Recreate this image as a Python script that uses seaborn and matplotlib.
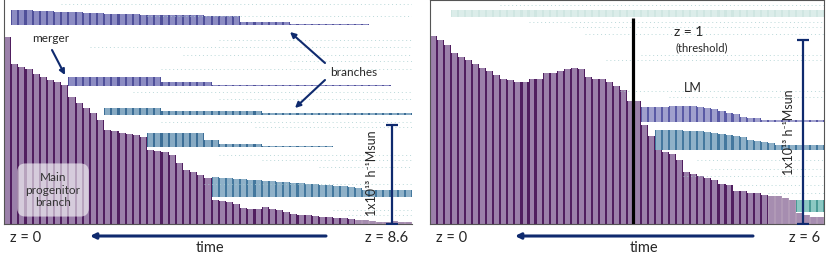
import numpy as np
import seaborn as sns
import matplotlib.pyplot as plt

# main progenitor mass (1e13 h^-1 Msun) per snapshot, z=0 on the left
main_left = [1.89, 1.61, 1.58, 1.56, 1.51, 1.48, 1.45, 1.43, 1.40, 1.28, 1.22, 1.17, 1.12, 1.05,
             0.95, 0.94, 0.92, 0.91, 0.90, 0.88, 0.75, 0.74, 0.73, 0.70, 0.62, 0.54, 0.52, 0.49, 0.46,
             0.24, 0.23, 0.22, 0.20, 0.16, 0.15, 0.15, 0.17, 0.15, 0.14, 0.12, 0.10, 0.09, 0.09, 0.08,
             0.07, 0.07, 0.06, 0.06, 0.05, 0.04, 0.04, 0.03, 0.02, 0.02, 0.03, 0.02, 0.02]
main_right = [1.02, 1.00, 0.97, 0.93, 0.91, 0.89, 0.87, 0.85, 0.83, 0.81, 0.79, 0.78, 0.77, 0.77,
              0.79, 0.79, 0.82, 0.82, 0.83, 0.84, 0.85, 0.84, 0.80, 0.79, 0.79, 0.77, 0.75, 0.73,
              0.67, 0.67, 0.54, 0.48, 0.43, 0.39, 0.38, 0.35, 0.28, 0.27, 0.26, 0.25, 0.24, 0.22,
              0.21, 0.18, 0.18, 0.17, 0.17, 0.16, 0.15, 0.15, 0.14, 0.13, 0.06, 0.05, 0.04, 0.04]

# branches: first snapshot index and masses
branch_a_start = 1
branch_a = [0.15] * 3 + [0.14] * 3 + [0.13] * 4 + [0.12] * 3 + [0.11] * 5 + [0.10] * 9 + [0.09] * 5 + [0.03] * 7 + [0.01] * 11
branch_b_start = 9
branch_b = [0.09] * 13 + [0.04] * 7 + [0.015] * 25
branch_c_start = 14
branch_c = [0.07] * 8 + [0.04] * 14 + [0.015] * 21
branch_d_start = 20
branch_d = [0.14] * 8 + [0.07] * 2 + [0.03] * 6 + [0.01] * 10
branch_e_start = 29
branch_e = [0.20, 0.19, 0.19, 0.18, 0.18, 0.17, 0.17, 0.16, 0.16, 0.15, 0.15, 0.14, 0.14, 0.13,
            0.13, 0.12, 0.12, 0.11, 0.11, 0.10, 0.09] + [0.07] * 7

top_r_start = 3
top_r = [0.04] * 53
lm_start = 30
lm_branch = [0.082, 0.082, 0.082, 0.082, 0.087, 0.087, 0.087, 0.087, 0.082, 0.076, 0.071,
             0.060, 0.049, 0.043, 0.027, 0.022, 0.022] + [0.011] * 9
br2_start = 32
br2 = [0.109, 0.109, 0.109, 0.109, 0.103, 0.103, 0.103, 0.098, 0.092, 0.087, 0.082, 0.076,
       0.071, 0.054, 0.049, 0.043, 0.038] + [0.027] * 7
teal_start = 52
teal = [0.065] * 4

# tiny branches (faint dotted lines): level, first snapshot
tiny_left = [(2.22, 8), (2.10, 20), (1.86, 30), (1.79, 12), (1.71, 25), (1.64, 40), (1.56, 22),
             (1.33, 18), (1.26, 30), (1.03, 22), (0.98, 35), (0.70, 30), (0.65, 36), (0.58, 44),
             (0.40, 28), (0.14, 46), (0.09, 48)]
tiny_right = [(1.19, 10), (1.10, 14), (1.07, 20), (1.03, 22), (0.92, 30), (0.89, 25), (0.72, 27),
              (0.69, 34), (0.35, 38), (0.30, 40), (0.26, 36), (0.21, 44), (0.17, 48)]

W, H = 830, 269
navy = '#0f2a6e'
mass_label = '1x10\u00b9\u00b3 h\u207b\u00b9Msun'

sns.set_theme(style='white')
plt.rcParams['font.family'] = ['Lato', 'DejaVu Sans']

fig = plt.figure(figsize=(W / 100, H / 100), dpi=100)
axL = fig.add_axes([4 / W, 45 / H, 408 / W, 224 / H])
axR = fig.add_axes([430 / W, 45 / H, 394 / W, 224 / H])


def fp(x, y):
    return (x / W, 1 - y / H)


def draw_main(ax, vals, light, dark, fade_from):
    n = len(vals)
    idx = np.arange(n)
    sns.barplot(x=idx, y=vals, ax=ax, color=dark, width=1.0, saturation=1, errorbar=None, linewidth=0)
    sns.barplot(x=idx, y=vals, ax=ax, color=light, width=0.7, saturation=1, errorbar=None, linewidth=0)
    for k, p in enumerate(ax.patches):
        if k % n >= fade_from:
            p.set_alpha(0.45)


def draw_branch(ax, start, vals, base, light, dark, alpha=1.0):
    x = np.arange(start, start + len(vals))
    ax.bar(x, vals, bottom=base, width=1.0, color=dark, alpha=alpha, linewidth=0)
    ax.bar(x, vals, bottom=base, width=0.7, color=light, alpha=alpha, linewidth=0)


# left tree
draw_main(axL, main_left, '#9b80aa', '#501e5f', 49)
for lev, s in tiny_left:
    axL.hlines(lev, s - 0.5, 56.5, color='#a9cfd0', lw=0.7, ls=(0, (1, 3)), alpha=0.8)
draw_branch(axL, branch_a_start, branch_a, 2.01, '#8c8cc3', '#50509a')
draw_branch(axL, branch_b_start, branch_b, 1.39, '#8c8cc3', '#50509a')
draw_branch(axL, branch_c_start, branch_c, 1.10, '#87aac3', '#3c6e96')
draw_branch(axL, branch_d_start, branch_d, 0.78, '#87aac3', '#3c6e96')
draw_branch(axL, branch_e_start, branch_e, 0.27, '#8fb1c8', '#44789e')
axL.set_xlim(-0.5, 56.5)
axL.set_ylim(0, 2.26)
axL.errorbar([53.7], [0.5], yerr=[0.5], color=navy, lw=1.6, capsize=4.5, capthick=1.6, zorder=6)

# right tree
draw_main(axR, main_right, '#9b80aa', '#501e5f', 48)
for lev, s in tiny_right:
    axR.hlines(lev, s - 0.5, 55.5, color='#a9cfd0', lw=0.7, ls=(0, (1, 3)), alpha=0.8)
draw_branch(axR, top_r_start, top_r, 1.125, '#e2f1ee', '#bcdcd7', alpha=0.7)
draw_branch(axR, lm_start, lm_branch, 0.554, '#a0a0cd', '#5a5aa5')
draw_branch(axR, br2_start, br2, 0.402, '#8fb1c8', '#44789e')
draw_branch(axR, teal_start, teal, 0.065, '#8cc8c3', '#4a9a96')
axR.set_xlim(-0.5, 55.5)
axR.set_ylim(0, 1.217)
axR.vlines(28.4, 0, 1.12, color='black', lw=2.3, zorder=6)
axR.errorbar([52.5], [0.5], yerr=[0.5], color=navy, lw=1.6, capsize=4.5, capthick=1.6, zorder=6)

for ax in (axL, axR):
    ax.set_xticks([])
    ax.set_yticks([])
    ax.set_xlabel('')
    ax.set_ylabel('')
    for sp in ax.spines.values():
        sp.set_color('#555555')
        sp.set_linewidth(0.8)
axL.spines['top'].set_visible(False)
axL.spines['right'].set_visible(False)

# labels
fig.text(*fp(51, 38), 'merger', fontsize=8.5, ha='center', va='center')
fig.text(*fp(354, 72), 'branches', fontsize=8.5, ha='center', va='center')
fig.text(*fp(53, 190), 'Main\nprogenitor\nbranch', fontsize=8.5, ha='center', va='center', color='#333333',
         linespacing=1.2, bbox=dict(boxstyle='round,pad=0.7', fc='white', ec='none', alpha=0.6))
fig.text(*fp(372, 173), mass_label, fontsize=9, rotation=90, ha='center', va='center')
fig.text(*fp(789, 132), mass_label, fontsize=9, rotation=90, ha='center', va='center')
fig.text(*fp(26, 238), 'z = 0', fontsize=10.5, ha='center', va='center')
fig.text(*fp(387, 238), 'z = 8.6', fontsize=10.5, ha='center', va='center')
fig.text(*fp(210, 248), 'time', fontsize=10.5, ha='center', va='center')
fig.text(*fp(452, 238), 'z = 0', fontsize=10.5, ha='center', va='center')
fig.text(*fp(644, 248), 'time', fontsize=10.5, ha='center', va='center')
fig.text(*fp(805, 238), 'z = 6', fontsize=10.5, ha='center', va='center')
fig.text(*fp(689, 32), 'z = 1', fontsize=10, ha='center', va='center')
fig.text(*fp(702, 48), '(threshold)', fontsize=8, ha='center', va='center')
fig.text(*fp(693, 88), 'LM', fontsize=9, ha='center', va='center')

arrows = [((52, 50), (65, 75), 1.5), ((325, 63), (290, 32), 1.5), ((325, 80), (295, 108), 1.5),
          ((326, 236), (90, 236), 2.2), ((753, 236), (515, 236), 2.2),
          ((667, 30), (645, 50), 1.5), ((680, 90), (649, 103), 1.5)]
for (x0, y0), (x1, y1), lw in arrows:
    axL.annotate('', xy=fp(x1, y1), xytext=fp(x0, y0), xycoords='figure fraction',
                 textcoords='figure fraction', annotation_clip=False,
                 arrowprops=dict(arrowstyle='-|>', color=navy, lw=lw, mutation_scale=8, shrinkA=0, shrinkB=0))

fig.savefig('out.png', dpi=100)
